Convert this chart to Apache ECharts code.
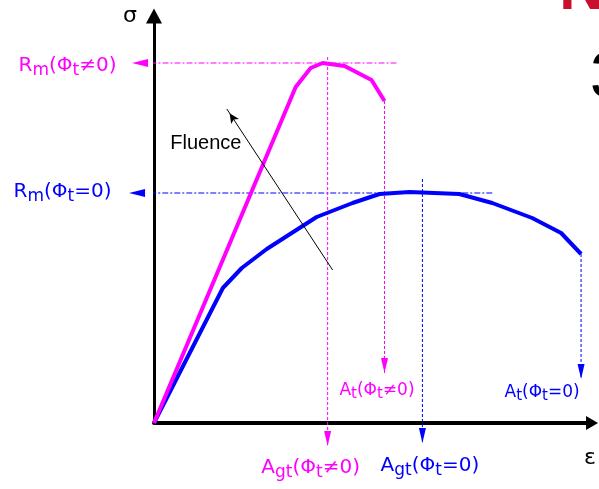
<!DOCTYPE html>
<html>
<head>
<meta charset="utf-8">
<script src="https://cdn.jsdelivr.net/npm/echarts@6/dist/echarts.min.js"></script>
<style>html,body{margin:0;padding:0;background:#fff}#c{width:599px;height:489px}</style>
</head>
<body>
<div id="c"></div>
<script>
// ---- Data (arbitrary units: strain ε on x, stress σ on y) ----
const strainIrr = [0, 142, 157, 169, 191, 218, 231];
const stressIrr = [0, 336, 355, 360, 357, 343, 322];
const strainUnirr = [0, 46, 69, 88, 113, 163, 199, 226, 256, 306, 339, 379, 408, 428];
const stressUnirr = [0, 90, 135, 155, 174, 206, 220, 229, 231, 229, 220, 205, 190, 169];
// Rm reference levels [irradiated, unirradiated]
const rmLevels = [360, 230];
const rmArrowX = [-22, -25];
const rmLineEnd = [243, 339];
// Agt (uniform elongation) positions
const agtStrain = [174, 269];
const agtTop = [366, 244];
const agtArrowY = [-23, -20];
// At arrow tips (y)
const atArrowY = [50, 44];
// Fluence arrow [tail, tip]
const fluenceTail = [179, 153];
const fluenceTip = [73, 314];
// Texts
const rmLabels = ['R{s|m}(Φ{s|t}≠0)', 'R{s|m}(Φ{s|t}=0)'];
const atLabels = ['A{s|t}(Φ{s|t}≠0)', 'A{s|t}(Φ{s|t}=0)'];
const agtLabels = ['A{s|gt}(Φ{s|t}≠0)', 'A{s|gt}(Φ{s|t}=0)'];
const fluenceLabel = 'Fluence';

const MAG = '#ff00ff', BLUE = '#0000ff';
const FONT = 'DejaVu Sans';

const pairs = (xs, ys) => xs.map((x, i) => [x, ys[i]]);
const last = a => a[a.length - 1];

function refLine(points, color, dash, arrowSize, arrowSymbol, z) {
  const n = points.length;
  const a = points[n - 2], b = points[n - 1];
  let dx = b[0] - a[0], dy = -(b[1] - a[1]);
  const len = Math.hypot(dx, dy); dx /= len; dy /= len;
  const rot = Math.atan2(-dx, -dy);
  const half = arrowSize[1] / 2;
  const data = points.map((p, i) => i === n - 1
    ? { value: p, symbol: arrowSymbol || 'triangle', symbolSize: arrowSize,
        symbolRotate: rot * 180 / Math.PI, symbolOffset: [-dx * half, -dy * half] }
    : { value: p, symbol: 'none' });
  return {
    type: 'line', data, clip: false, silent: true, z: z || 2,
    itemStyle: { color, opacity: 1 },
    lineStyle: { color, width: 1, type: dash },
    emphasis: { disabled: true }, animation: false
  };
}

function richFor(big) {
  return big
    ? { s: { fontSize: 17, padding: [10, 0, 0, 0] } }
    : { s: { fontSize: 15, padding: [7, 0, 0, 0] } };
}

function labelPoint(pt, text, color, fontSize, big, offset, family) {
  return {
    value: pt,
    itemStyle: { color, opacity: 1 },
    label: {
      show: true, position: 'inside', formatter: text, color, opacity: 1,
      fontFamily: family || FONT, fontSize, offset, rich: big === null ? undefined : richFor(big)
    }
  };
}

const dashDot = [6, 2, 2, 2];
const dotted = [3, 2];

const series = [
  refLine([[rmLineEnd[0], rmLevels[0]], [rmArrowX[0], rmLevels[0]]], MAG, dashDot, [8, 16]),
  refLine([[rmLineEnd[1], rmLevels[1]], [rmArrowX[1], rmLevels[1]]], BLUE, dashDot, [8, 16]),
  refLine([[agtStrain[0], agtTop[0]], [agtStrain[0], agtArrowY[0]]], MAG, dotted, [7, 15]),
  refLine([[agtStrain[1], agtTop[1]], [agtStrain[1], agtArrowY[1]]], BLUE, dotted, [7, 15]),
  refLine([[last(strainIrr), last(stressIrr)], [last(strainIrr), atArrowY[0]]], MAG, dotted, [7, 15]),
  refLine([[last(strainUnirr), last(stressUnirr)], [last(strainUnirr), atArrowY[1]]], BLUE, dotted, [7, 15]),
  {
    type: 'line', data: pairs(strainUnirr, stressUnirr), showSymbol: false, z: 3,
    lineStyle: { color: BLUE, width: 4 }, itemStyle: { color: BLUE }, silent: true, animation: false
  },
  {
    type: 'line', data: pairs(strainIrr, stressIrr), showSymbol: false, z: 4,
    lineStyle: { color: MAG, width: 4 }, itemStyle: { color: MAG }, silent: true, animation: false
  },
  refLine([fluenceTail, fluenceTip], '#000', 'solid', [7, 10], 'arrow', 5),
  {
    type: 'scatter', symbolSize: 0, clip: false, silent: true, z: 6, animation: false,
    emphasis: { disabled: true },
    data: [
      labelPoint([rmArrowX[0], rmLevels[0]], rmLabels[0], MAG, 20, true, [-64.5, 2.5]),
      labelPoint([rmArrowX[1], rmLevels[1]], rmLabels[1], BLUE, 20, true, [-66.5, -1]),
      labelPoint([last(strainIrr), atArrowY[0]], atLabels[0], MAG, 17, false, [-7.5, 18]),
      labelPoint([last(strainUnirr), atArrowY[1]], atLabels[1], BLUE, 17, false, [-39, 14]),
      labelPoint([agtStrain[0], agtArrowY[0]], agtLabels[0], MAG, 20, true, [-17, 21.5]),
      labelPoint([agtStrain[1], agtArrowY[1]], agtLabels[1], BLUE, 20, true, [7.5, 22.5]),
      labelPoint(fluenceTip, fluenceLabel, '#000', 20, null, [-21, 34], 'Liberation Sans')
    ]
  }
];

const chart = echarts.init(document.getElementById('c'));
chart.setOption({
  animation: false,
  backgroundColor: '#fff',
  grid: { left: 154, right: 6, top: 16, bottom: 66 },
  xAxis: {
    type: 'value', min: 0, max: 439,
    name: 'ε', nameLocation: 'end', nameGap: 0,
    nameTextStyle: { fontFamily: FONT, fontSize: 22, color: '#000', align: 'center', verticalAlign: 'top', padding: [24, 4, 0, 0] },
    axisLine: { show: true, symbol: ['none', 'triangle'], symbolSize: [14, 12], lineStyle: { color: '#000', width: 4 } },
    axisTick: { show: false }, axisLabel: { show: false }, splitLine: { show: false }
  },
  yAxis: {
    type: 'value', min: 0, max: 407,
    name: 'σ', nameLocation: 'end', nameGap: 0,
    nameTextStyle: { fontFamily: FONT, fontSize: 22, color: '#000', align: 'right', verticalAlign: 'middle', padding: [0, 17, 0, 0] },
    axisLine: { show: true, symbol: ['none', 'triangle'], symbolSize: [16, 15], lineStyle: { color: '#000', width: 3 } },
    axisTick: { show: false }, axisLabel: { show: false }, splitLine: { show: false }
  },
  graphic: [
    { type: 'text', x: 559, y: -41, silent: true,
      style: { text: 'N', font: 'bold 64px "Liberation Sans"', fill: '#c8102e', verticalAlign: 'top' } },
    { type: 'text', x: 590, y: 47, silent: true,
      style: { text: '3', font: '64px "Liberation Sans"', fill: '#000', verticalAlign: 'top' } }
  ],
  series
});
</script>
</body>
</html>
